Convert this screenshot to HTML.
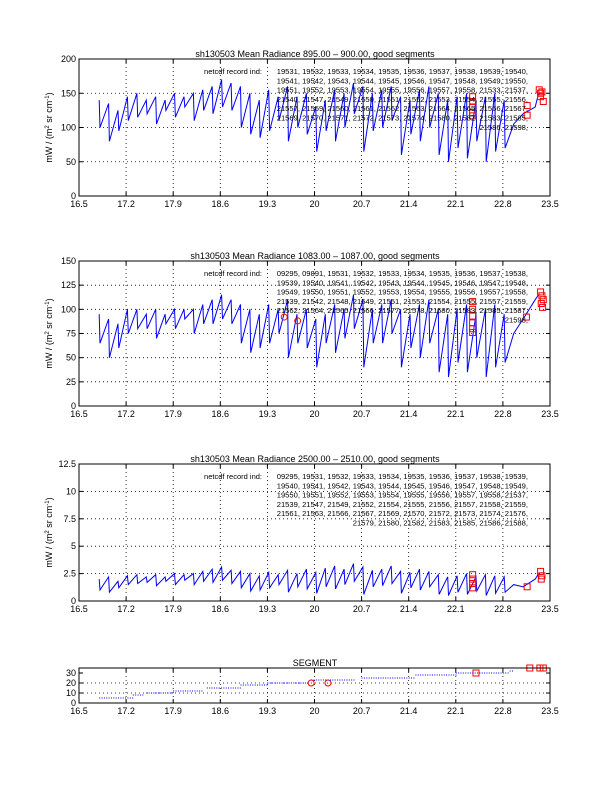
<!DOCTYPE html>
<html><head><meta charset="utf-8"><style>
html,body{margin:0;padding:0;background:#fff;width:612px;height:792px;overflow:hidden}
svg{display:block;font-family:"Liberation Sans",sans-serif}
</style></head><body>
<svg id="fig" width="612" height="792" viewBox="0 0 612 792"></svg>
<script>
const times=[16.80,16.87,16.94,17.01,17.08,17.15,17.22,17.29,17.36,17.43,17.50,17.57,17.64,17.71,17.78,17.85,17.92,17.99,18.06,18.13,18.20,18.27,18.34,18.41,18.48,18.55,18.62,18.69,18.76,18.83,18.90,18.97,19.04,19.11,19.18,19.25,19.32,19.39,19.46,19.53,19.60,19.67,19.74,19.81,19.88,19.95,20.02,20.09,20.16,20.23,20.30,20.37,20.44,20.51,20.58,20.65,20.72,20.79,20.86,20.93,21.00,21.07,21.14,21.21,21.28,21.35,21.42,21.49,21.56,21.63,21.70,21.77,21.84,21.91,21.98,22.05,22.12,22.19,22.26,22.33,22.40,22.47,22.54,22.61,22.68,22.75,22.82,22.89,22.96,23.10,23.28,23.33];
const rad895=[140,100,135,80,125,95,145,110,150,115,140,120,145,105,140,125,150,115,145,130,150,110,155,125,160,120,170,130,165,125,160,100,150,90,140,85,155,95,145,110,160,80,145,100,150,90,130,65,140,95,155,80,150,100,165,120,160,65,150,95,155,100,160,110,145,60,140,90,155,80,160,100,150,60,140,50,145,70,150,55,140,80,145,50,150,65,140,70,105,120,130,150];
const rad1083=[95,65,90,50,85,60,100,75,100,80,95,80,100,70,95,85,100,80,100,90,100,75,105,85,110,85,115,90,110,85,105,65,100,55,95,60,105,65,100,75,110,50,95,65,100,60,90,40,95,65,105,55,100,70,115,80,110,40,100,65,105,65,110,75,100,40,95,60,105,50,110,65,100,35,95,30,100,45,105,35,95,50,100,30,105,40,95,45,75,90,110,115];
const rad2500=[2.0,1.0,2.2,0.8,1.8,1.2,2.3,1.5,2.4,1.6,2.2,1.7,2.4,1.4,2.2,1.8,2.5,1.5,2.4,1.9,2.5,1.5,2.7,1.8,2.9,1.7,3.1,1.9,2.8,1.6,2.7,1.2,2.5,0.9,2.3,1.0,2.6,1.2,2.4,1.5,2.8,0.8,2.5,1.3,2.9,1.1,2.6,0.7,3.0,1.3,3.2,1.1,2.9,1.5,3.4,1.8,3.1,0.6,2.8,1.3,2.9,1.4,3.2,1.6,2.7,0.7,2.6,1.2,2.9,1.0,2.7,1.3,2.4,0.6,2.2,0.5,2.3,0.8,2.5,0.6,2.2,0.9,2.4,0.5,2.3,0.7,2.2,0.8,1.5,1.3,2.0,2.5];
const red1x=[22.35,22.35,22.35,22.35,22.35,23.16,23.16,23.34,23.36,23.38,23.36,23.40];
const red1y=[145,138,130,122,117,132,118,155,150,152,145,138];
const red2x=[19.55,19.75,22.35,22.35,22.35,22.35,22.35,22.35,23.15,23.36,23.38,23.40,23.37,23.39];
const red2y=[92,88,108,100,93,86,80,76,92,118,114,110,106,102];
const red3x=[22.35,22.35,22.35,22.35,23.16,23.36,23.38,23.37];
const red3y=[2.4,2.0,1.6,1.2,1.3,2.7,2.3,2.0];
const segStart=[16.8,17.3,17.5,17.9,18.4,18.9,19.3,19.95,20.7,21.5,22.1,22.9];
const segEnd=[17.3,17.45,17.9,18.35,18.9,19.3,19.9,20.6,21.5,22.1,22.9,22.95];
const segLevel=[5,8,10,12,15,18,20,23,25,28,30,32];
const segRedX=[19.95,20.2,22.4,23.2,23.35,23.4];
const segRedY=[20,20,30,35,35,35];
const xTicks=[16.5,17.2,17.9,18.6,19.3,20,20.7,21.4,22.1,22.8,23.5];

const NS="http://www.w3.org/2000/svg",svg=document.getElementById('fig');
function el(t,a,p){const e=document.createElementNS(NS,t);for(const k in a)e.setAttribute(k,a[k]);(p||svg).appendChild(e);return e;}
const X0=79,X1=550;
function xs(v){return X0+(v-16.5)/(23.5-16.5)*(X1-X0);}

function panel(name,top,bot,ymax,yt,vals,rx,ry,title,lines,notes,labelTick,circleIdx){
  const g=el('g',{});
  
  
  const ys=v=>bot-(v/ymax)*(bot-top);
  xTicks.slice(1,-1).forEach(t=>{const l=el('line',{x1:xs(t),x2:xs(t),y1:top,y2:bot,stroke:'#000','stroke-width':0.8,'stroke-dasharray':'1,3'},g);});
  yt.slice(1,-1).forEach(t=>{const l=el('line',{x1:X0,x2:X1,y1:ys(t),y2:ys(t),stroke:'#000','stroke-width':0.8,'stroke-dasharray':'1,3'},g);});
  if(vals){
    const pts=vals.map((v,i)=>{
      const t=(i%2===1&&i<89)?times[i-1]+0.012:times[i];
      return xs(t).toFixed(1)+','+ys(v).toFixed(1);
    });
    const pl=el('polyline',{points:pts.join(' '),fill:'none',stroke:'#0000ff','stroke-width':1},g);
    
    
  }
  rx.forEach((x,i)=>{
    let m;
    if(circleIdx&&circleIdx.includes(i)) m=el('circle',{cx:xs(x),cy:ys(ry[i]),r:3,fill:'none',stroke:'#f00','stroke-width':1},g);
    else m=el('rect',{x:xs(x)-3,y:ys(ry[i])-3,width:6,height:6,fill:'none',stroke:'#f00','stroke-width':1},g);
    
    
  });
  const b=el('rect',{x:X0,y:top,width:X1-X0,height:bot-top,fill:'none',stroke:'#000','stroke-width':1},g);
  
  
  xTicks.forEach(t=>{
    el('line',{x1:xs(t),x2:xs(t),y1:bot,y2:bot-4,stroke:'#000'},g);
    el('line',{x1:xs(t),x2:xs(t),y1:top,y2:top+4,stroke:'#000'},g);
    const tx=el('text',{x:xs(t),y:bot+11,'font-size':9,'text-anchor':'middle'},g);
    tx.textContent=String(t);
    
    
  });
  yt.forEach((t,i)=>{
    el('line',{x1:X0,x2:X0+4,y1:ys(t),y2:ys(t),stroke:'#000'},g);
    el('line',{x1:X1,x2:X1-4,y1:ys(t),y2:ys(t),stroke:'#000'},g);
    const tx=el('text',{x:X0-3,y:ys(t)+3,'font-size':9,'text-anchor':'end'},g);
    tx.textContent=labelTick[i];
    
    
  });
  const tt=el('text',{x:315,y:top-2,'font-size':9,'text-anchor':'middle'},g);
  tt.textContent=title;
  
  
  if(lines){
    const yl=el('text',{transform:`translate(52,${(top+bot)/2}) rotate(-90)`,'font-size':9,'text-anchor':'middle'},g);
    yl.innerHTML='mW / (m<tspan dy="-3" font-size="6">2</tspan><tspan dy="3"> sr cm</tspan><tspan dy="-3" font-size="6">-1</tspan><tspan dy="3">)</tspan>';
    
    
    const lab=el('text',{x:262,y:top+15,'font-size':7.5,'text-anchor':'end'},g);
    lab.textContent='netcdf record ind:';
    
    
    lines.forEach((s,i)=>{
      const t=el('text',{x:528,y:top+15+i*9.3,'font-size':7.6,'text-anchor':'end'},g);
      t.textContent=s;
      
      
    });
  }
}

panel('panel-895',59,196,200,[0,50,100,150,200],rad895,red1x,red1y,'sh130503 Mean Radiance 895.00 \u2013 900.00, good segments',[
'19531, 19532, 19533, 19534, 19535, 19536, 19537, 19538, 19539, 19540,',
'19541, 19542, 19543, 19544, 19545, 19546, 19547, 19548, 19549, 19550,',
'19551, 19552, 19553, 19554, 19555, 19556, 19557, 19558, 21533, 21537,',
'21540, 21547, 21549, 21550, 21551, 21552, 21553, 21554, 21555, 21556,',
'21557, 21559, 21560, 21561, 21562, 21563, 21564, 21565, 21566, 21567,',
'21569, 21570, 21571, 21572, 21573, 21574, 21580, 21582, 21583, 21585,',
'21586, 21598,'],null,['0','50','100','150','200'],[]);
panel('panel-1083',261,406,150,[0,25,50,75,100,125,150],rad1083,red2x,red2y,'sh130503 Mean Radiance 1083.00 \u2013 1087.00, good segments',[
'09295, 09891, 19531, 19532, 19533, 19534, 19535, 19536, 19537, 19538,',
'19539, 19540, 19541, 19542, 19543, 19544, 19545, 19546, 19547, 19548,',
'19549, 19550, 19551, 19552, 19553, 19554, 19555, 19556, 19557, 19558,',
'21539, 21542, 21548, 21549, 21551, 21553, 21554, 21555, 21557, 21559,',
'21562, 21564, 21565, 21566, 21577, 21578, 21580, 21583, 21585, 21587,',
'21598,'],null,['0','25','50','75','100','125','150'],[0,1]);
panel('panel-2500',464,601,12.5,[0,2.5,5,7.5,10,12.5],rad2500,red3x,red3y,'sh130503 Mean Radiance 2500.00 \u2013 2510.00, good segments',[
'09295, 19531, 19532, 19533, 19534, 19535, 19536, 19537, 19538, 19539,',
'19540, 19541, 19542, 19543, 19544, 19545, 19546, 19547, 19548, 19549,',
'19550, 19551, 19552, 19553, 19554, 19555, 19556, 19557, 19558, 21537,',
'21539, 21547, 21549, 21552, 21554, 21555, 21556, 21557, 21558, 21559,',
'21561, 21563, 21566, 21567, 21569, 21570, 21572, 21573, 21574, 21576,',
'21579, 21580, 21582, 21583, 21585, 21586, 21588,'],null,['0','2.5','5','7.5','10','12.5'],[]);
panel('panel-segment',668,703,35,[0,10,20,30],null,segRedX,segRedY,'SEGMENT',null,null,['0','10','20','30'],[0,1]);
(function(){
  const top=668,bot=703,ys=v=>bot-(v/35)*(bot-top);
  segStart.forEach((s,i)=>{
    for(let x=s;x<=segEnd[i]+1e-9;x+=0.035){
      const d=el('rect',{x:xs(x),y:ys(segLevel[i])-0.5,width:1,height:1,fill:'#0000ff'});
      
      
    }
  });
})();
</script>
</body></html>
